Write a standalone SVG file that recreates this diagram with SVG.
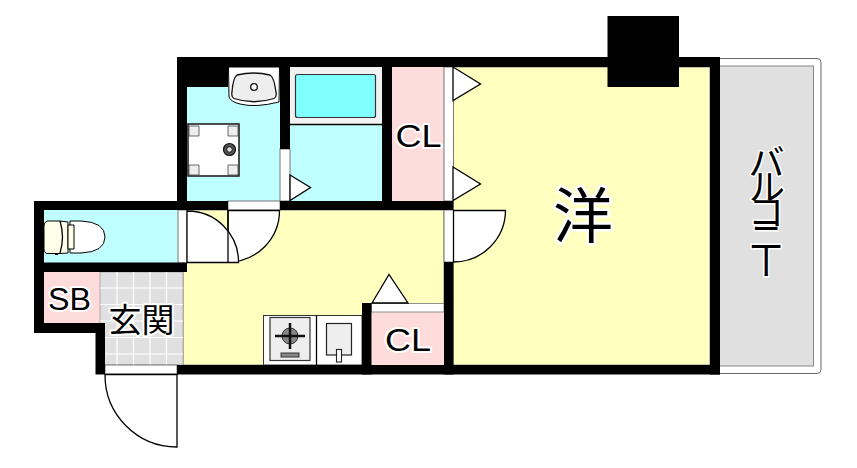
<svg xmlns="http://www.w3.org/2000/svg" width="857" height="468" viewBox="0 0 857 468">
<style>
.wall{fill:#000}
.door{fill:#fff;stroke:#000;stroke-width:1.3}
.jamb{fill:#fff;stroke:#777;stroke-width:1}
.ln{fill:none;stroke:#000;stroke-width:1.3}
.grid{stroke:#fff;stroke-width:1.2;fill:none}
.lab{font-family:"Liberation Sans","Noto Sans CJK JP",sans-serif;fill:#000;stroke:#fff;stroke-width:4;stroke-linejoin:round;paint-order:stroke;text-anchor:middle}
</style>
<rect width="857" height="468" fill="#fff"/>
<g id="balcony">
<rect x="700" y="58.500" width="121" height="315" rx="4" fill="#fff" stroke="#666" stroke-width="1"/>
<rect x="715" y="66" width="98.500" height="300" fill="#e0e0e0" stroke="#888" stroke-width="1"/>
<text class="lab" x="763" y="143" font-size="37" letter-spacing="-12" style="writing-mode:vertical-rl;text-anchor:start;stroke-width:3">バルコニー</text>
</g>
<g id="room-western">
<rect x="453" y="67" width="257" height="298" fill="#ffffbf" stroke="#888" stroke-width="1"/>
<text class="lab" x="583" y="238" font-size="60" style="stroke-width:5">洋</text>
</g>
<g id="room-ldk">
<rect x="183" y="210" width="261" height="155" fill="#ffffbf" stroke="#888" stroke-width="1"/>
</g>
<g id="room-wash">
<rect x="187" y="87" width="93" height="114" fill="#c0ffff"/>
<path d="M228.500 67L229 97Q231 102 240 104Q255 108 279 102L279.500 67Z" fill="#fff" stroke="#000" stroke-width="1"/>
<path d="M237 75Q254 71 270 75Q274 77 276 92Q277 97 274 98.500Q254 105 234 98.500Q231 97 232 92Q233 78 237 75Z" fill="#eee" stroke="#111" stroke-width="1.300"/>
<circle cx="254" cy="87" r="3.300" fill="#fff" stroke="#111" stroke-width="1.300"/>
<rect x="188" y="124" width="51" height="52" fill="#fff" stroke="#222" stroke-width="1.600"/>
<path d="M189 126H199V136H189ZM228 126H238V136H228ZM189 165H199V175H189ZM228 165H238V175H228Z" fill="#eee" stroke="#444" stroke-width="0.800"/>
<circle cx="229.500" cy="149.500" r="6" fill="#555" stroke="#111" stroke-width="1.200"/>
<circle cx="229.500" cy="149.500" r="2.800" fill="#ddd" stroke="#111" stroke-width="1"/>
</g>
<g id="room-bath">
<rect x="290" y="67" width="92" height="134" fill="#c0ffff"/>
<rect x="290" y="67" width="92" height="57" fill="#f2f2f2"/>
<line class="ln" x1="290" y1="124.500" x2="382" y2="124.500"/>
<rect x="295.500" y="74.500" width="80" height="43" rx="2" fill="#80ffff" stroke="#333" stroke-width="1.200"/>
</g>
<g id="closet-upper">
<rect x="392" y="67" width="52" height="134" fill="#ffdcdc"/>
<rect x="444" y="67" width="9.500" height="134" class="jamb"/>
<path class="door" d="M453 67L480.500 84L453 100.500Z"/>
<path class="door" d="M453 167L480.500 184L453 200.500Z"/>
<text class="lab" x="418.500" y="147" font-size="32" textLength="46" lengthAdjust="spacingAndGlyphs">CL</text>
</g>
<g id="room-toilet">
<rect x="44" y="210" width="134" height="53" fill="#c0ffff"/>
<path d="M70 221H81Q105 222 105 237Q105 252 81 253H70Z" fill="#fff" stroke="#000" stroke-width="1"/>
<path d="M47 221H60L68 222V253L60 253.500H47Q44 253 44 248V226Q44 222 47 221Z" fill="#ffffea" stroke="#000" stroke-width="1"/>
<path class="ln" d="M60 221Q65 237 60 253" stroke-width="1"/>
<path d="M68 225H74V249H68Z" fill="#ffffea" stroke="#000" stroke-width="1"/>
<rect x="55" y="253" width="3" height="2" fill="#000"/>
</g>
<g id="closet-sb">
<rect x="44" y="272" width="56" height="51" fill="#ffdcdc"/>
<text class="lab" x="69.500" y="310" font-size="32" textLength="43" lengthAdjust="spacingAndGlyphs">SB</text>
</g>
<g id="entrance">
<rect x="100" y="272" width="83" height="93" fill="#e0e0e0" stroke="#888" stroke-width="0.600"/>
<path class="grid" d="M117 272V365M133.500 272V365M150 272V365M166.500 272V365M100 288H183M100 304.500H183M100 321H183M100 337.500H183M100 354H183"/>
<text class="lab" x="141.500" y="332" font-size="33">玄関</text>
</g>
<g id="closet-lower">
<rect x="372" y="312" width="72" height="53" fill="#ffdcdc"/>
<rect x="371.500" y="303.500" width="72.500" height="8.500" fill="#fff" stroke="#777" stroke-width="0.800"/>
<path class="door" d="M372 303L389 274.500L408 303Z"/>
<text class="lab" x="408" y="351" font-size="32" textLength="46" lengthAdjust="spacingAndGlyphs">CL</text>
</g>
<g id="kitchen">
<rect x="263.500" y="315.500" width="98.500" height="49.500" fill="#fff" stroke="#333" stroke-width="1"/>
<line class="ln" x1="316.500" y1="315.500" x2="316.500" y2="365"/>
<rect x="270" y="317.500" width="40" height="43" fill="#eee" stroke="#333" stroke-width="1.200"/>
<circle cx="290" cy="336" r="8" fill="#888" stroke="#333" stroke-width="1"/>
<path d="M290 323V349M275 336H305" stroke="#111" stroke-width="2.500" fill="none"/>
<rect x="281" y="353" width="18" height="4" fill="#888" stroke="#333" stroke-width="1"/>
<rect x="326.500" y="323.500" width="25" height="31.500" fill="#eee" stroke="#222" stroke-width="1.200"/>
<rect x="336.500" y="349.500" width="5" height="12.500" fill="#fff" stroke="#222" stroke-width="1.100"/>
</g>
<g id="doors">
<rect x="178" y="210" width="9" height="53" class="jamb"/>
<rect x="228" y="201" width="52" height="9" class="jamb"/>
<path class="door" d="M228 210.500H279.500A51.500 51.500 0 0 1 228 262Z"/>
<path class="door" d="M187 211A51 51 0 0 1 238.500 262.500H187Z"/>
<line class="ln" x1="228" y1="210.500" x2="228" y2="262.500"/>
<rect x="444" y="210" width="9.500" height="52" class="jamb"/>
<path class="door" d="M453.500 210.500H505.500A52 52 0 0 1 453.500 262Z"/>
<rect x="280" y="149" width="10" height="52" class="jamb"/>
<path class="door" d="M290 175L310.500 187.500L290 200.500Z"/>
<rect x="105" y="365" width="72" height="9" class="jamb"/>
<path class="door" d="M105 374.500H177V447A72 72 0 0 1 105 374.500Z"/>
</g>
<g id="connectors">
<rect class="wall" x="177" y="57" width="543" height="10"/>
<rect class="wall" x="177" y="57" width="10" height="144"/>
<rect class="wall" x="177" y="57" width="51" height="30"/>
<rect class="wall" x="280" y="57" width="10" height="92"/>
<rect class="wall" x="382" y="57" width="10" height="153"/>
<rect class="wall" x="34" y="201" width="194" height="9"/>
<rect class="wall" x="280" y="201" width="173.500" height="9"/>
<rect class="wall" x="710" y="57" width="10" height="317.500"/>
<rect class="wall" x="177" y="365" width="543" height="9.500"/>
<rect class="wall" x="34" y="201" width="10" height="132"/>
<rect class="wall" x="34" y="262.500" width="153" height="9.500"/>
<rect class="wall" x="34" y="323" width="71" height="10"/>
<rect class="wall" x="95.500" y="323" width="9.500" height="51.500"/>
<rect class="wall" x="607.500" y="16" width="71.500" height="71"/>
<rect class="wall" x="362" y="303" width="9.500" height="71.500"/>
<rect class="wall" x="444" y="262" width="9.500" height="112.500"/>
</g>
</svg>
